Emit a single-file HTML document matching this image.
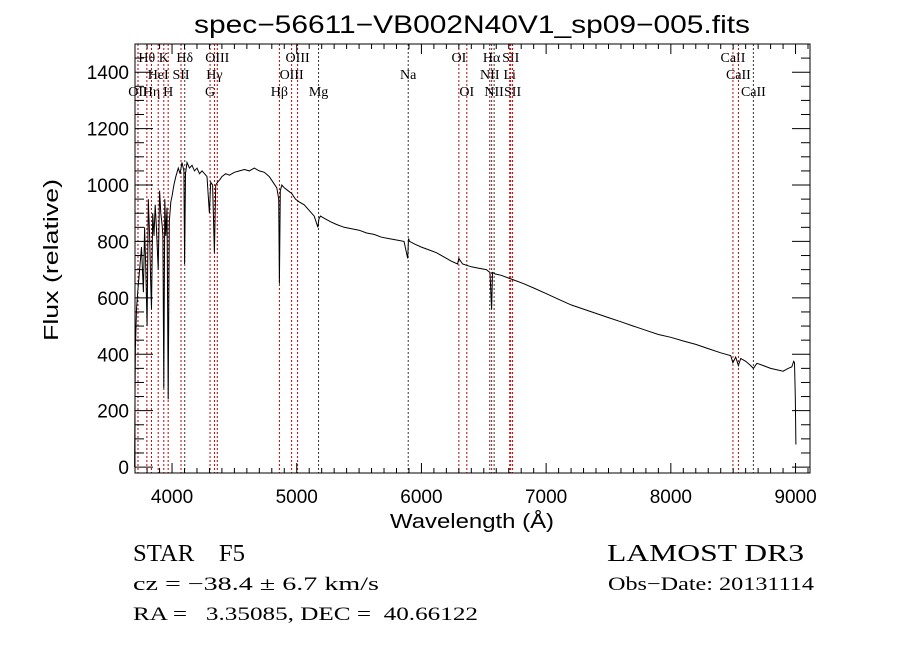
<!DOCTYPE html>
<html><head><meta charset="utf-8"><style>
body{margin:0;background:#fff;width:900px;height:649px;overflow:hidden}
svg{display:block}
text{font-family:"Liberation Serif",serif;fill:#000;white-space:pre}
</style></head><body>
<svg id="chart" width="900" height="649" viewBox="0 0 900 649">
<rect width="900" height="649" fill="#fff"/>
<text x="472" y="33" font-size="25" text-anchor="middle" textLength="556" lengthAdjust="spacingAndGlyphs" style="font-family:'Liberation Sans',sans-serif">spec−56611−VB002N40V1_sp09−005.fits</text>
<g id="lines"></g>
<g id="axes"></g>
<path id="spec" fill="none" stroke="#000" stroke-width="1"/>
<text x="472" y="528" font-size="20" text-anchor="middle" style="font-family:'Liberation Sans',sans-serif" textLength="164" lengthAdjust="spacingAndGlyphs">Wavelength (Å)</text>
<text transform="translate(58,260) rotate(-90)" font-size="20" text-anchor="middle" style="font-family:'Liberation Sans',sans-serif" textLength="162" lengthAdjust="spacingAndGlyphs">Flux (relative)</text>
<text x="133" y="561" font-size="24" textLength="112" lengthAdjust="spacingAndGlyphs" xml:space="preserve">STAR    F5</text>
<text x="133" y="590" font-size="19" textLength="246" lengthAdjust="spacingAndGlyphs" xml:space="preserve">cz = −38.4 ± 6.7 km/s</text>
<text x="133" y="620" font-size="19" textLength="345" lengthAdjust="spacingAndGlyphs" xml:space="preserve">RA =   3.35085, DEC =  40.66122</text>
<text x="607" y="561" font-size="24" textLength="197" lengthAdjust="spacingAndGlyphs">LAMOST DR3</text>
<text x="608" y="590" font-size="19" textLength="206" lengthAdjust="spacingAndGlyphs">Obs−Date: 20131114</text>
</svg>
<script>
const xTicks=[4000,5000,6000,7000,8000,9000];
const yTicks=[0,200,400,600,800,1000,1200,1400];
const lineNames=["OII","Hθ","Hη","HeI","K","H","SII","Hδ","G","Hγ","OIII","Hβ","OIII","OIII","Mg","Na","OI","OI","NII","Hα","NII","Li","SII","SII","CaII","CaII","CaII"];
const lineWaves=[3727,3798,3835,3889,3934,3969,4072,4102,4305,4340,4363,4861,4959,5007,5175,5894,6300,6364,6548,6563,6583,6708,6716,6731,8498,8542,8662];
const lineRow=[2,0,2,1,0,2,1,0,2,1,0,2,1,0,2,1,0,2,1,0,2,1,0,2,0,1,2];
const lineRed=[1,1,1,1,1,1,1,0,1,1,1,1,1,1,0,0,1,1,0,1,0,1,1,1,1,1,0];
const specWave=[3700,3703,3706,3715,3725,3740,3755,3770,3780,3790,3800,3810,3820,3830,3835,3845,3855,3865,3875,3889,3900,3910,3920,3927,3934,3942,3950,3960,3969,3978,3990,4000,4015,4030,4050,4065,4080,4095,4101,4108,4120,4140,4160,4180,4200,4220,4240,4260,4280,4300,4310,4325,4340,4350,4365,4385,4400,4430,4460,4500,4540,4580,4620,4660,4700,4740,4780,4810,4840,4855,4861,4868,4880,4900,4930,4960,4990,5020,5060,5100,5140,5170,5178,5190,5230,5270,5320,5380,5440,5500,5560,5620,5680,5740,5800,5860,5890,5896,5905,5950,6000,6060,6120,6180,6240,6290,6300,6330,6400,6460,6520,6550,6563,6570,6590,6640,6700,6760,6820,6900,7000,7100,7200,7300,7400,7500,7600,7700,7800,7900,8000,8100,8200,8300,8400,8480,8498,8520,8542,8560,8600,8640,8662,8690,8740,8800,8850,8900,8940,8970,8985,8992,8998,9003];
const specFlux=[0,250,420,560,620,700,780,620,850,700,500,950,820,640,560,900,820,930,850,700,980,900,860,820,280,950,820,920,240,870,940,960,1000,1030,1060,1040,1080,1050,720,1040,1080,1060,1070,1050,1060,1040,1050,1040,1030,900,1010,1000,760,1000,1010,1020,1030,1040,1035,1045,1050,1055,1050,1060,1050,1045,1030,1010,990,950,650,980,1000,990,980,970,950,940,930,910,890,850,880,890,880,870,860,850,845,840,830,825,815,810,805,800,740,810,800,790,780,770,760,745,730,720,740,720,710,705,700,690,560,690,685,680,670,660,650,635,615,595,575,560,545,530,515,500,485,470,460,447,435,420,405,395,370,390,360,385,375,360,350,368,360,350,345,340,350,355,375,370,250,80];

const X0=3703,X1=9116,PX0=135,PX1=810,Y0=-21,Y1=1500,PY0=473,PY1=44;
const sx=w=>PX0+(w-X0)/(X1-X0)*(PX1-PX0);
const sy=f=>PY0-(f-Y0)/(Y1-Y0)*(PY0-PY1);
const NS="http://www.w3.org/2000/svg";
function mk(tag,attrs,parent){const e=document.createElementNS(NS,tag);for(const k in attrs)e.setAttribute(k,attrs[k]);parent.appendChild(e);return e;}
const ax=document.getElementById('axes');
const lg=document.getElementById('lines');
lineWaves.forEach((w,i)=>{
  const x=sx(w);
  const l=mk('line',{x1:x,x2:x,y1:PY1,y2:PY0,stroke:lineRed[i]?'#c00000':'#333','stroke-width':1,'stroke-dasharray':'2,2'},lg);
  
  
  const t=mk('text',{x:x,y:62+lineRow[i]*17,'font-size':14,'text-anchor':'middle'},lg);
  t.textContent=lineNames[i];
  
  
});
const fr=mk('rect',{x:PX0,y:PY1,width:PX1-PX0,height:PY0-PY1,fill:'none',stroke:'#000','stroke-width':1},ax);


for(let w=3800;w<=9100;w+=100){
  const x=sx(w);const major=w%1000===0;const len=major?10:5;
  mk('line',{x1:x,x2:x,y1:PY0,y2:PY0-len,stroke:'#000'},ax);
  mk('line',{x1:x,x2:x,y1:PY1,y2:PY1+len,stroke:'#000'},ax);
}
xTicks.forEach(v=>{
  const t=mk('text',{x:sx(v),y:PY0+30,'font-size':19,'text-anchor':'middle',style:"font-family:'Liberation Sans',sans-serif"},ax);
  t.textContent=v;
  
  
});
for(let f=0;f<=1500;f+=50){
  const y=sy(f);const major=f%200===0;const len=major?18:9;
  mk('line',{x1:PX0,x2:PX0+len,y1:y,y2:y,stroke:'#000'},ax);
  mk('line',{x1:PX1,x2:PX1-len,y1:y,y2:y,stroke:'#000'},ax);
}
yTicks.forEach(v=>{
  const t=mk('text',{x:PX0-6,y:sy(v)+7,'font-size':19,'text-anchor':'end',style:"font-family:'Liberation Sans',sans-serif"},ax);
  t.textContent=v;
  
  
});
let d='';
specWave.forEach((w,i)=>{d+=(i?'L':'M')+sx(w).toFixed(1)+','+sy(specFlux[i]).toFixed(1);});
document.getElementById('spec').setAttribute('d',d);
</script>
</body></html>
